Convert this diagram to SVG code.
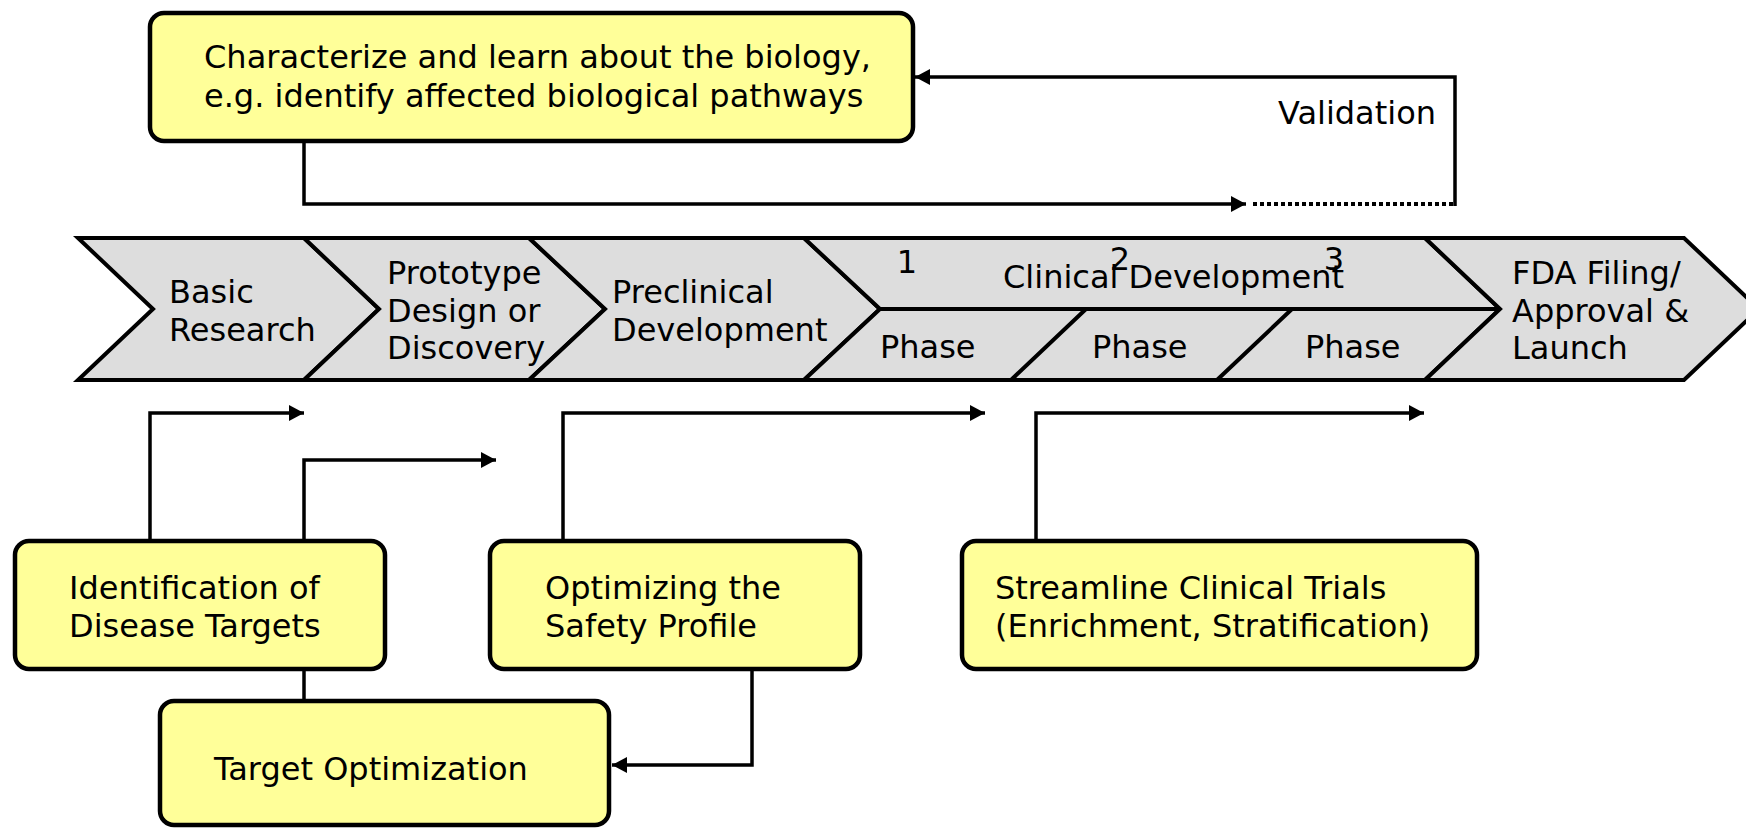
<svg xmlns="http://www.w3.org/2000/svg" width="1746" height="828" viewBox="0 0 1746 828">
  <style>
    .lbl { font-family: "DejaVu Sans", "Liberation Sans", sans-serif; font-size: 32px; fill: #000; }
    .box { fill: #FFFF99; stroke: #000; stroke-width: 4.5; }
    .chev { fill: #DDDDDD; stroke: #000; stroke-width: 4; stroke-linejoin: miter; }
    .div { fill: none; stroke: #000; stroke-width: 4; }
    .conn { fill: none; stroke: #000; stroke-width: 3.5; }
    .dots { fill: none; stroke: #000; stroke-width: 4; stroke-dasharray: 4 3; }
  </style>
  <defs>
    <marker id="arrow" markerUnits="userSpaceOnUse" markerWidth="18" markerHeight="18" refX="15" refY="8" orient="auto">
      <path d="M0,0 L15,8 L0,16 z" fill="#000"/>
    </marker>
  </defs>

  <rect width="1746" height="828" fill="#fff"/>

  <!-- process band -->
  <g id="stage-basic-research">
    <path class="chev" d="M78,238 H304 L379,309 L304,380 H78 L153,309 Z"/>
    <text class="lbl" x="169" y="303">Basic</text>
    <text class="lbl" x="169" y="341">Research</text>
  </g>
  <g id="stage-prototype">
    <path class="chev" d="M304,238 H529 L605,309 L529,380 H304 L379,309 Z"/>
    <text class="lbl" x="387" y="284">Prototype</text>
    <text class="lbl" x="387" y="322">Design or</text>
    <text class="lbl" x="387" y="359">Discovery</text>
  </g>
  <g id="stage-preclinical">
    <path class="chev" d="M529,238 H804 L880,309 L804,380 H529 L605,309 Z"/>
    <text class="lbl" x="612" y="303">Preclinical</text>
    <text class="lbl" x="612" y="341">Development</text>
  </g>
  <g id="stage-clinical">
    <path class="chev" d="M804,238 H1425 L1500,309 L1425,380 H804 L880,309 Z"/>
    <path class="div" d="M880,309 H1500 M1011,380 L1086,309 M1217,380 L1292,309"/>
    <text class="lbl" x="1003" y="288">Clinical Development</text>
    <text class="lbl" x="907" y="273" text-anchor="middle">1</text>
    <text class="lbl" x="1120" y="270" text-anchor="middle">2</text>
    <text class="lbl" x="1334" y="270" text-anchor="middle">3</text>
    <text class="lbl" x="880" y="358">Phase</text>
    <text class="lbl" x="1092" y="358">Phase</text>
    <text class="lbl" x="1305" y="358">Phase</text>
  </g>
  <g id="stage-fda">
    <path class="chev" d="M1425,238 H1684 L1759,309 L1684,380 H1425 L1500,309 Z"/>
    <text class="lbl" x="1512" y="284">FDA Filing/</text>
    <text class="lbl" x="1512" y="322">Approval &amp;</text>
    <text class="lbl" x="1512" y="359">Launch</text>
  </g>

  <!-- connectors -->
  <g id="connectors">
    <path class="conn" d="M304,141 V204 H1246" marker-end="url(#arrow)"/>
    <path class="dots" d="M1253,204 H1455"/>
    <path class="conn" d="M1455,206 V77 H915" marker-end="url(#arrow)"/>
    <path class="conn" d="M150,541 V413 H304" marker-end="url(#arrow)"/>
    <path class="conn" d="M304,541 V460 H496" marker-end="url(#arrow)"/>
    <path class="conn" d="M563,541 V413 H985" marker-end="url(#arrow)"/>
    <path class="conn" d="M1036,541 V413 H1424" marker-end="url(#arrow)"/>
    <path class="conn" d="M304,669 V701"/>
    <path class="conn" d="M752,669 V765 H612" marker-end="url(#arrow)"/>
    <text class="lbl" x="1278" y="124">Validation</text>
  </g>

  <!-- activity boxes -->
  <g id="biology">
    <rect class="box" x="150" y="13" width="763" height="128" rx="14"/>
    <text class="lbl" x="204" y="68">Characterize and learn about the biology,</text>
    <text class="lbl" x="204" y="107">e.g. identify affected biological pathways</text>
  </g>
  <g id="disease-targets">
    <rect class="box" x="15" y="541" width="370" height="128" rx="14"/>
    <text class="lbl" x="69" y="599">Identification of</text>
    <text class="lbl" x="69" y="637">Disease Targets</text>
  </g>
  <g id="safety-profile">
    <rect class="box" x="490" y="541" width="370" height="128" rx="14"/>
    <text class="lbl" x="545" y="599">Optimizing the</text>
    <text class="lbl" x="545" y="637">Safety Profile</text>
  </g>
  <g id="clinical-trials">
    <rect class="box" x="962" y="541" width="515" height="128" rx="14"/>
    <text class="lbl" x="995" y="599">Streamline Clinical Trials</text>
    <text class="lbl" x="995" y="637">(Enrichment, Stratification)</text>
  </g>
  <g id="target-optimization">
    <rect class="box" x="160" y="701" width="449" height="124" rx="14"/>
    <text class="lbl" x="214" y="780">Target Optimization</text>
  </g>
</svg>
